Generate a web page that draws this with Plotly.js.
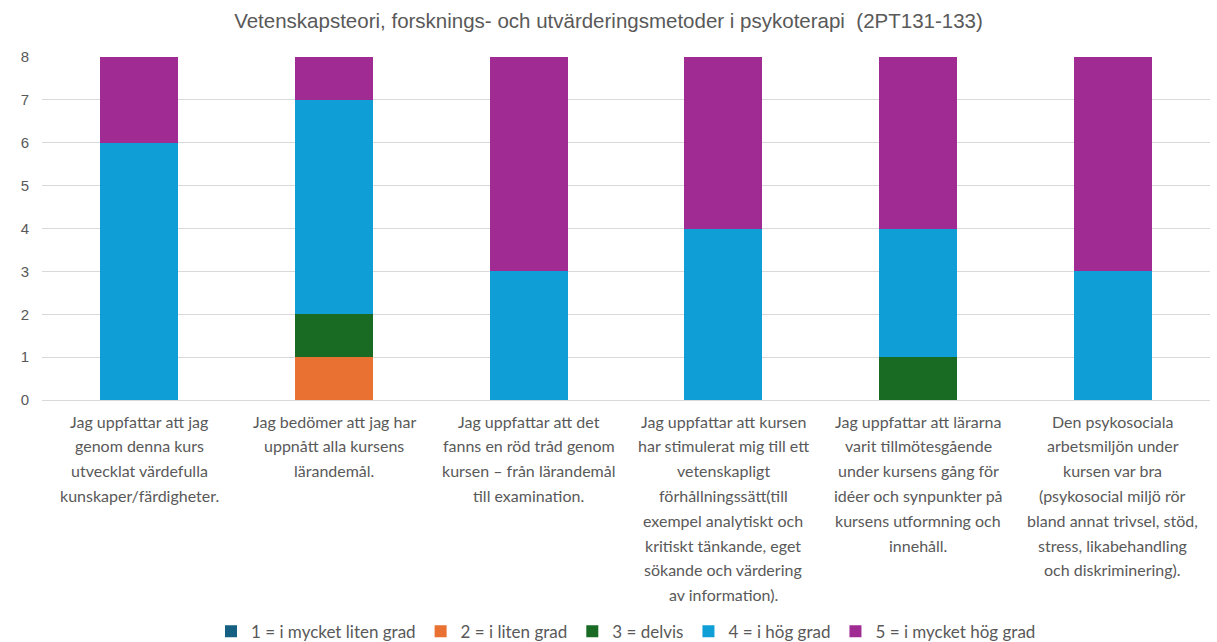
<!DOCTYPE html>
<html>
<head>
<meta charset="utf-8">
<script src="https://cdn.plot.ly/plotly-3.0.1.min.js"></script>
<style>html,body{margin:0;padding:0;background:#fff;}#chart{width:1217px;height:642px;}</style>
</head>
<body>
<div id="chart"></div>
<script>
const categories = [
  "Jag uppfattar att jag<br>genom denna kurs<br>utvecklat värdefulla<br>kunskaper/färdigheter.",
  "Jag bedömer att jag har<br>uppnått alla kursens<br>lärandemål.",
  "Jag uppfattar att det<br>fanns en röd tråd genom<br>kursen – från lärandemål<br>till examination.",
  "Jag uppfattar att kursen<br>har stimulerat mig till ett<br>vetenskapligt<br>förhållningssätt(till<br>exempel analytiskt och<br>kritiskt tänkande, eget<br>sökande och värdering<br>av information).",
  "Jag uppfattar att lärarna<br>varit tillmötesgående<br>under kursens gång för<br>idéer och synpunkter på<br>kursens utformning och<br>innehåll.",
  "Den psykosociala<br>arbetsmiljön under<br>kursen var bra<br>(psykosocial miljö rör<br>bland annat trivsel, stöd,<br>stress, likabehandling<br>och diskriminering)."
];
const seriesNames = ["1 = i mycket liten grad", "2 = i liten grad", "3 = delvis", "4 = i hög grad", "5 = i mycket hög grad"];
const s1 = [0, 0, 0, 0, 0, 0];
const s2 = [0, 1, 0, 0, 0, 0];
const s3 = [0, 1, 0, 0, 1, 0];
const s4 = [6, 5, 3, 4, 3, 3];
const s5 = [2, 1, 5, 4, 4, 5];
const yTicks = [0, 1, 2, 3, 4, 5, 6, 7, 8];
const colors = ["#156082", "#E97132", "#196B24", "#0F9ED5", "#A02B93"];
const title = "Vetenskapsteori, forsknings- och utvärderingsmetoder i psykoterapi  (2PT131-133)";

const values = [s1, s2, s3, s4, s5];
const idx = categories.map((_, i) => i);
const traces = values.map((v, k) => ({
  type: 'bar',
  x: idx,
  y: v,
  name: seriesNames[k],
  marker: {color: colors[k], line: {width: 0}},
  hoverinfo: 'y+name'
}));

// category labels: one annotation per line for Excel-like line spacing
const annotations = [];
categories.forEach((lab, i) => {
  lab.split('<br>').forEach((line, j) => {
    annotations.push({
      xref: 'x', yref: 'y', x: i, y: 0,
      text: line, showarrow: false,
      xanchor: 'center', yanchor: 'middle',
      yshift: -(21 + 24.8 * j),
      font: {family: 'Lato, sans-serif', size: 16, color: '#595959'}
    });
  });
});

const layout = {
  width: 1217, height: 642,
  barmode: 'stack',
  bargap: 0.6,
  paper_bgcolor: '#fff', plot_bgcolor: '#fff',
  margin: {l: 42, r: 7, t: 57, b: 242},
  title: {text: title, x: 0.5, xanchor: 'center', y: 0.968, yanchor: 'middle',
          font: {family: 'Liberation Sans, Arial, sans-serif', size: 20.5, color: '#595959'}},
  xaxis: {
    tickmode: 'array', tickvals: idx, showticklabels: false,
    range: [-0.5, 5.5], showgrid: false, zeroline: false, showline: false, ticks: ''
  },
  yaxis: {
    range: [0, 8], tickmode: 'array', tickvals: yTicks,
    showgrid: true, gridcolor: '#D9D9D9', gridwidth: 1,
    zeroline: true, zerolinecolor: '#D9D9D9', zerolinewidth: 1, showline: false,
    ticks: '', ticklabelstandoff: 12,
    tickfont: {family: 'Liberation Sans, Arial, sans-serif', size: 15, color: '#595959'}
  },
  annotations: annotations,
  showlegend: true,
  legend: {orientation: 'h', x: 0.5, xanchor: 'center', yref: 'container', y: 0.016, yanchor: 'middle',
           traceorder: 'normal', itemwidth: 30,
           font: {family: 'Lato, sans-serif', size: 17, color: '#595959'}}
};

Plotly.newPlot('chart', traces, layout, {displayModeBar: false, responsive: false});
</script>
</body>
</html>
